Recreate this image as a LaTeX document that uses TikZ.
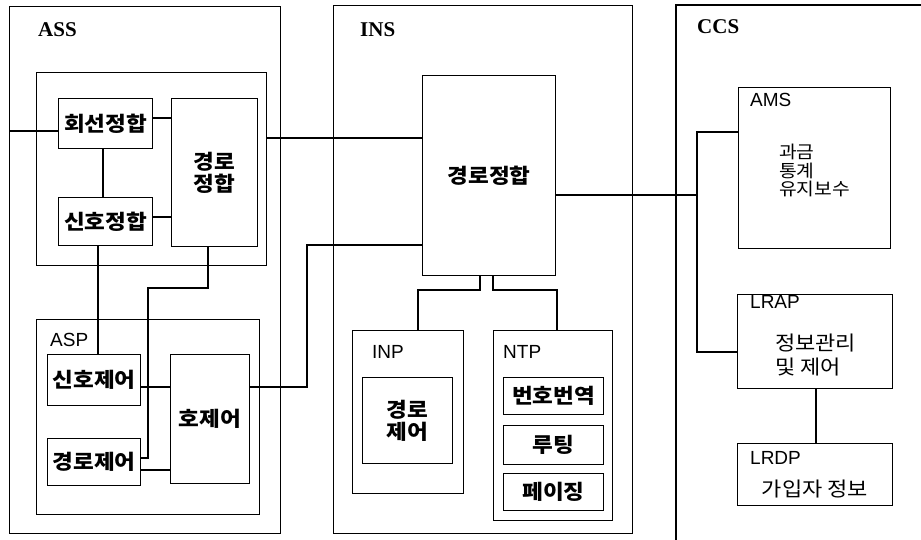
\documentclass[tikz,border=0pt]{standalone}
\usepackage{fontspec}
\setmainfont{Liberation Serif}
\newfontfamily\sansf{Liberation Sans}
\newfontfamily\kr{Noto Sans CJK KR}[FakeStretch=1.1]
\begin{document}
\begin{tikzpicture}[x=1pt,y=-1pt,
  box/.style={draw, line width=1.2pt, inner sep=0pt, anchor=north west, align=center},
  wire/.style={line width=1.2pt},
  ktext/.style={font=\kr\bfseries\fontsize{20.5}{22}\selectfont},
  ktextr/.style={font=\kr\fontsize{20}{21}\selectfont},
  ktexts/.style={font=\kr\fontsize{17.5}{18.6}\selectfont},
  serlab/.style={anchor=west, inner sep=0pt, font=\bfseries\fontsize{21}{22}\selectfont},
  sanlab/.style={anchor=west, inner sep=0pt, font=\sansf\fontsize{19}{20}\selectfont}]
\useasboundingbox (0,0) rectangle (921,540);
% ASS
\node[box, minimum width=271pt, minimum height=527pt] (ass) at (9,6) {};
\node[serlab] (lass) at (38,30) {ASS};
\node[box, minimum width=230pt, minimum height=193pt] (assin) at (36,72) {};
\node[box, ktext, minimum width=94pt, minimum height=50pt] (hs) at (58,98) {회선정합};
\node[box, ktext, minimum width=94pt, minimum height=48pt] (sh) at (58,197) {신호정합};
\node[box, ktext, minimum width=86pt, minimum height=148pt] (gr1) at (171,98) {경로\\정합};
\node[box, minimum width=223pt, minimum height=195pt] (asp) at (36,319) {};
\node[sanlab] (lasp) at (50,340) {ASP};
\node[box, ktext, minimum width=93pt, minimum height=51pt] (shj) at (47,354) {신호제어};
\node[box, ktext, minimum width=93pt, minimum height=47pt] (grj) at (47,438) {경로제어};
\node[box, ktext, minimum width=79pt, minimum height=129pt] (hj) at (170,354) {호제어};
% INS
\node[box, minimum width=299pt, minimum height=528pt] (ins) at (333,5) {};
\node[serlab] (lins) at (360,30) {INS};
\node[box, ktext, minimum width=133pt, minimum height=200pt] (gr2) at (422,75) {경로정합};
\node[box, minimum width=111pt, minimum height=163pt] (inp) at (352,330) {};
\node[sanlab] (linp) at (372,352) {INP};
\node[box, ktext, minimum width=90pt, minimum height=86pt] (grj2) at (362,377) {경로\\제어};
\node[box, minimum width=119pt, minimum height=190pt] (ntp) at (493,330) {};
\node[sanlab] (lntp) at (503,352) {NTP};
\node[box, ktext, minimum width=100pt, minimum height=37pt] (bh) at (503,377) {번호번역};
\node[box, ktext, minimum width=100pt, minimum height=39pt] (rt) at (503,425) {루팅};
\node[box, ktext, minimum width=100pt, minimum height=37pt] (pg) at (503,473) {페이징};
% CCS
\draw[wire] (676,540) -- (676,5) -- (921,5);
\node[serlab] (lccs) at (697,27) {CCS};
\node[box, minimum width=152pt, minimum height=161pt] (ams) at (738,87) {};
\node[sanlab] (lams) at (750,100) {AMS};
\node[ktexts, anchor=north west, align=left, inner sep=0pt] (amst) at (779,144) {과금\\통계\\유지보수};
\node[box, minimum width=155pt, minimum height=94pt] (lrap) at (737,294) {};
\node[sanlab] (llrap) at (750,302) {LRAP};
\node[ktextr, anchor=north west, align=left, inner sep=0pt] (lrapt) at (775,334) {정보관리\\[3pt]및 제어};
\node[box, minimum width=155pt, minimum height=62pt] (lrdp) at (737,443) {};
\node[sanlab] (llrdp) at (750,458) {LRDP};
\node[ktextr, inner sep=0pt] (lrdpt) at (815,489) {가입자 정보};
% connectors
\draw[wire] (ass.west |- 0,131) -- (hs.west |- 0,131);
\draw[wire] (hs.east |- 0,118) -- (gr1.west |- 0,118);
\draw[wire] (sh.east |- 0,217) -- (gr1.west |- 0,217);
\draw[wire] (hs.south -| 103,0) -- (sh.north -| 103,0);
\draw[wire] (assin.east |- 0,138) -- (gr2.west |- 0,138);
\draw[wire] (sh.south -| 98,0) -- (shj.north -| 98,0);
\draw[wire] (gr1.south -| 208,0) -- (208,288) -- (148,288) -- (148,458) -- (grj.east |- 0,458);
\draw[wire] (shj.east |- 0,387) -- (hj.west |- 0,387);
\draw[wire] (grj.east |- 0,470) -- (hj.west |- 0,470);
\draw[wire] (hj.east |- 0,387) -- (307,387) -- (307,245) -- (gr2.west |- 0,245);
\draw[wire] (gr2.south -| 480,0) -- (480,290) -- (418,290) -- (inp.north -| 418,0);
\draw[wire] (gr2.south -| 493,0) -- (493,290) -- (557,290) -- (ntp.north -| 557,0);
\coordinate (jn) at (697,195);
\draw[wire] (gr2.east |- 0,195) -- (jn);
\draw[wire] (ams.west |- 0,132) -- (697,132) -- (697,352) -- (lrap.west |- 0,352);
\draw[wire] (lrap.south -| 816,0) -- (lrdp.north -| 816,0);
\end{tikzpicture}
\end{document}
